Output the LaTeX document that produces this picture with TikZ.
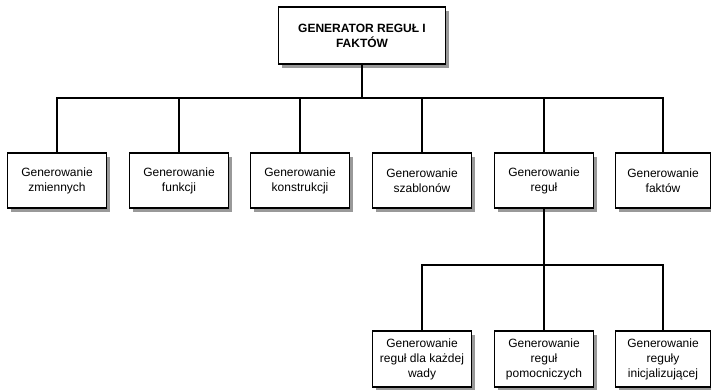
\documentclass[tikz,border=0pt]{standalone}
\usepackage{fontspec}
\setmainfont{Liberation Sans}
\usetikzlibrary{shadows}
\begin{document}
\begin{tikzpicture}[x=1pt,y=-1pt,
  box/.style={draw, line width=1.7pt, fill=white, minimum width=99pt,
    minimum height=55pt, inner sep=0pt, align=center,
    font=\fontsize{12}{15}\selectfont,
    drop shadow={shadow xshift=3.5pt, shadow yshift=-3.5pt, fill=black!40, opacity=1}},
  link/.style={line width=1.7pt}]
\useasboundingbox (0,0) rectangle (711,389);

% root
\node[box, minimum width=167pt, minimum height=57pt,
      font=\fontsize{12}{15}\selectfont\bfseries] (top) at (362,35.5)
  {GENERATOR REGUŁ I\\FAKTÓW};

% first level
\node[box] (r1) at (57,180.5)  {Generowanie\\zmiennych};
\node[box] (r2) at (179,180.5) {Generowanie\\funkcji};
\node[box] (r3) at (300,180.5) {Generowanie\\konstrukcji};
\node[box] (r4) at (422,180.5) {Generowanie\\szablonów};
\node[box] (r5) at (544,180.5) {Generowanie\\reguł};
\node[box, minimum width=95pt] (r6) at (663,180.5) {Generowanie\\faktów};

% second level
\node[box, minimum height=56pt] (s1) at (422,359) {Generowanie\\reguł dla każdej\\wady};
\node[box, minimum height=56pt] (s2) at (544,359) {Generowanie\\reguł\\pomocniczych};
\node[box, minimum height=56pt, minimum width=95pt] (s3) at (663,359) {Generowanie\\reguły\\inicjalizującej};

% bus levels
\coordinate (bus1) at (0,98);
\coordinate (bus2) at (0,265);

\foreach \n in {r1,r2,r3,r4,r5,r6}
  \draw[link] (top.south) |- (\n.north |- bus1) -- (\n.north);
\foreach \n in {s1,s2,s3}
  \draw[link] (r5.south) |- (\n.north |- bus2) -- (\n.north);
\end{tikzpicture}
\end{document}
